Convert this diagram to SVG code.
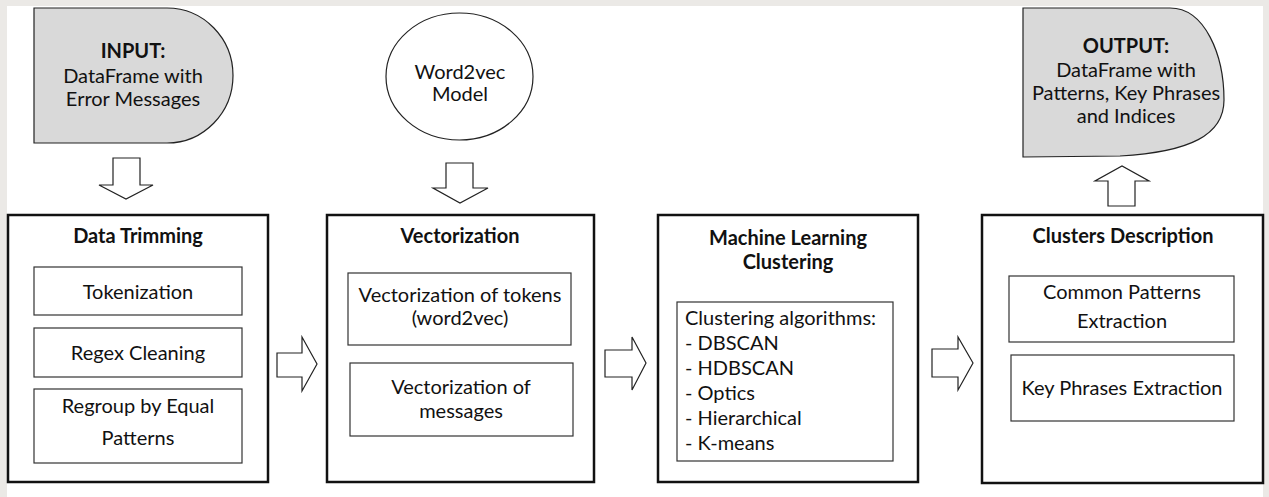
<svg xmlns="http://www.w3.org/2000/svg" width="1269" height="497" viewBox="0 0 1269 497">
<style>
text{font-family:Lato,"Open Sans","Liberation Sans",sans-serif;font-size:20px;fill:#111;text-anchor:middle}
.b{font-weight:bold}
.l{text-anchor:start}
.main{fill:#fff;stroke:#111;stroke-width:2.5}
.sub{fill:#fff;stroke:#333;stroke-width:1.2}
.term{fill:#d9d9d9;stroke:#222;stroke-width:1.2}
.arr{fill:#fff;stroke:#222;stroke-width:1.2;stroke-linejoin:miter}
</style>
<rect x="0" y="0" width="1269" height="497" fill="#ebe9e6"/>
<rect x="7" y="6" width="1256" height="491" fill="#fff"/>

<g id="input">
<path class="term" d="M34,8 H167 A66,67.5 0 0 1 167,143 H34 Z"/>
<text class="b" x="133" y="58">INPUT:</text>
<text x="133" y="83">DataFrame with</text>
<text x="133" y="106">Error Messages</text>
</g>

<g id="word2vec">
<ellipse cx="459.5" cy="76.5" rx="73.5" ry="63.5" fill="#fff" stroke="#222" stroke-width="1.2"/>
<text x="460" y="79">Word2vec</text>
<text x="460" y="101">Model</text>
</g>

<g id="output">
<path class="term" d="M1023,8 H1170 C1205,8 1224,55 1224,100 C1224,135 1190,152 1120,156 L1023,157 Z"/>
<text class="b" x="1126" y="53">OUTPUT:</text>
<text x="1126" y="77">DataFrame with</text>
<text x="1126" y="100">Patterns, Key Phrases</text>
<text x="1126" y="123">and Indices</text>
</g>

<g id="data-trimming">
<rect class="main" x="8" y="215" width="260" height="267"/>
<text class="b" x="138" y="243">Data Trimming</text>
<rect class="sub" x="34" y="267" width="208" height="48"/>
<text x="138" y="299">Tokenization</text>
<rect class="sub" x="34" y="328" width="208" height="49"/>
<text x="138" y="360">Regex Cleaning</text>
<rect class="sub" x="34" y="389" width="208" height="74"/>
<text x="138" y="413">Regroup by Equal</text>
<text x="138" y="445">Patterns</text>
</g>

<g id="vectorization">
<rect class="main" x="327" y="215" width="267" height="267"/>
<text class="b" x="460" y="243">Vectorization</text>
<rect class="sub" x="348" y="273" width="223" height="72"/>
<text x="460" y="302">Vectorization of tokens</text>
<text x="460" y="325">(word2vec)</text>
<rect class="sub" x="350" y="363" width="223" height="73"/>
<text x="461" y="394">Vectorization of</text>
<text x="461" y="418">messages</text>
</g>

<g id="ml-clustering">
<rect class="main" x="658" y="215" width="260" height="267"/>
<text class="b" x="788" y="245">Machine Learning</text>
<text class="b" x="788" y="269">Clustering</text>
<rect class="sub" x="677" y="302" width="216" height="159"/>
<text class="l" x="685" y="325">Clustering algorithms:</text>
<text class="l" x="685" y="350">- DBSCAN</text>
<text class="l" x="685" y="375">- HDBSCAN</text>
<text class="l" x="685" y="400">- Optics</text>
<text class="l" x="685" y="425">- Hierarchical</text>
<text class="l" x="685" y="450">- K-means</text>
</g>

<g id="clusters-description">
<rect class="main" x="982" y="215" width="281" height="268"/>
<text class="b" x="1123" y="243">Clusters Description</text>
<rect class="sub" x="1009" y="276" width="225" height="66"/>
<text x="1122" y="299">Common Patterns</text>
<text x="1122" y="328">Extraction</text>
<rect class="sub" x="1011" y="355" width="223" height="66"/>
<text x="1122" y="395">Key Phrases Extraction</text>
</g>

<g id="connectors">
<polygon class="arr" points="113,158 140,158 140,185 153,185 126,199 99,185 113,185"/>
<polygon class="arr" points="446,163 473,163 473,188 488,188 460,203 433,188 446,188"/>
<polygon class="arr" points="1108,206 1135,206 1135,181 1149,181 1122,166 1095,181 1108,181"/>
<polygon class="arr" points="277,353 302,353 302,337 317,364 302,391 302,377 277,377"/>
<polygon class="arr" points="605,350 632,350 632,337 646,363 632,390 632,377 605,377"/>
<polygon class="arr" points="932,349 958,349 958,337 973,363 958,390 958,377 932,377"/>
</g>
</svg>
